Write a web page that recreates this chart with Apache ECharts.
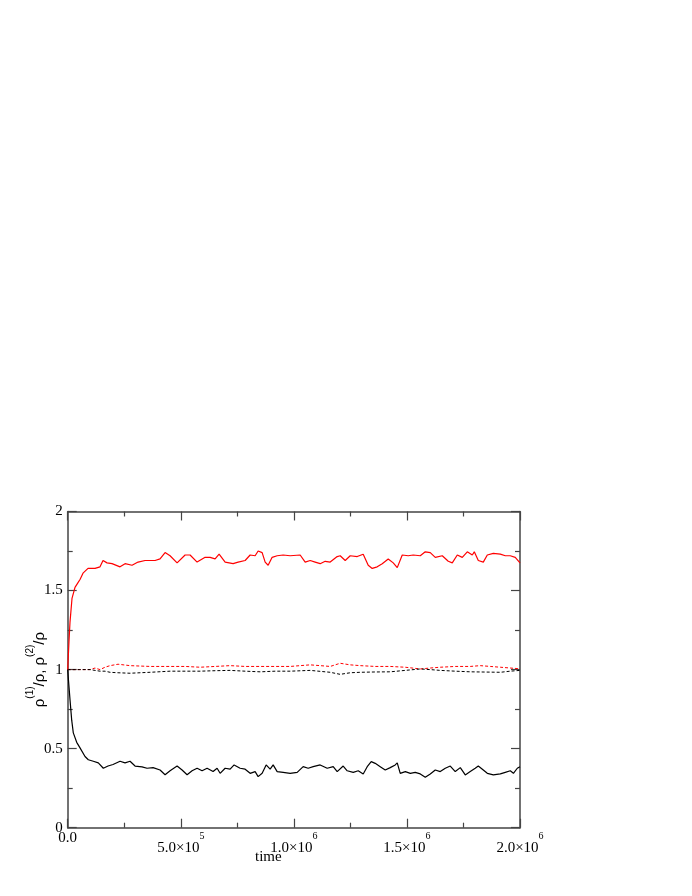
<!DOCTYPE html>
<html>
<head>
<meta charset="utf-8">
<script src="https://cdn.jsdelivr.net/npm/echarts@6/dist/echarts.min.js"></script>
<style>
html,body{margin:0;padding:0;background:#fff;}
#chart{width:692px;height:896px;}
</style>
</head>
<body>
<div id="chart"></div>
<script>
// ---- data ----
var redSolidTime = [0,5750,10180,19030,32300,45580,54430,67700,89830,120800,142900,156200,173900,196000,231400,253600,284500,311100,342100,386300,408400,430600,452700,483700,519100,541200,572200,607600,629700,651800,669500,696100,731500,753600,784600,806700,828800,842100,859800,873100,886300,904000,926200,952700,983700,1027900,1050100,1072200,1094300,1116400,1138600,1160700,1191700,1204900,1227100,1249200,1280200,1306700,1328800,1346500,1368600,1390800,1417300,1439500,1457200,1479300,1505800,1527950,1559000,1581100,1603200,1625300,1656300,1682800,1700500,1722700,1744800,1766900,1789000,1797900,1815600,1837700,1855400,1882000,1913000,1935000,1957000,1979000,2000000];
var redSolid = [1.0,1.18,1.3,1.45,1.52,1.55,1.57,1.61,1.64,1.64,1.65,1.69,1.675,1.67,1.65,1.67,1.66,1.68,1.69,1.69,1.70,1.74,1.72,1.675,1.725,1.725,1.68,1.71,1.71,1.70,1.73,1.68,1.67,1.68,1.69,1.725,1.72,1.75,1.74,1.68,1.66,1.71,1.72,1.725,1.72,1.725,1.68,1.69,1.68,1.67,1.685,1.68,1.715,1.72,1.69,1.72,1.715,1.73,1.66,1.64,1.65,1.67,1.70,1.675,1.645,1.725,1.72,1.725,1.72,1.745,1.74,1.71,1.72,1.685,1.675,1.725,1.71,1.745,1.725,1.745,1.69,1.68,1.725,1.735,1.73,1.72,1.72,1.71,1.675];

var blackSolidTime = [0,3540,10180,17700,24780,39830,54430,61950,76550,91160,113300,135400,157500,178300,200450,231400,253600,275700,297800,328800,350900,377500,408400,430600,452700,483700,505800,527900,550000,572200,594300,616400,642950,660650,673900,696100,718200,735900,762400,784600,806700,828800,842100,859800,877500,895200,908500,926200,952700,983700,1014700,1041200,1063300,1085500,1116400,1147400,1174000,1191700,1218200,1235900,1262500,1284600,1306700,1324400,1342100,1359800,1382000,1404100,1426200,1448300,1457200,1470400,1493000,1515000,1536800,1559000,1581100,1603200,1625300,1647400,1669600,1691700,1713800,1736000,1758000,1780000,1802000,1815600,1837700,1855400,1882000,1913000,1935000,1957000,1970900,1988000,2000000];
var blackSolid = [1.0,0.93,0.81,0.68,0.60,0.54,0.505,0.50,0.45,0.43,0.42,0.41,0.376,0.39,0.40,0.42,0.41,0.42,0.39,0.385,0.376,0.38,0.365,0.335,0.36,0.39,0.365,0.335,0.36,0.376,0.36,0.376,0.355,0.376,0.344,0.376,0.37,0.397,0.376,0.37,0.344,0.355,0.323,0.344,0.397,0.37,0.397,0.355,0.35,0.344,0.35,0.386,0.376,0.386,0.397,0.376,0.386,0.355,0.39,0.36,0.35,0.36,0.34,0.386,0.418,0.407,0.386,0.365,0.38,0.397,0.41,0.344,0.355,0.344,0.35,0.34,0.319,0.34,0.365,0.355,0.376,0.39,0.355,0.38,0.334,0.355,0.376,0.39,0.365,0.344,0.334,0.34,0.35,0.36,0.344,0.376,0.386];

var dashTime = [0,54000,98700,120800,142900,165100,187200,222600,275700,364200,452700,519100,585400,651800,718200,784600,851000,917400,983700,1072200,1160700,1204900,1249200,1293800,1360200,1426200,1492600,1559000,1603200,1647400,1713800,1780000,1824400,1868700,1913000,1957000,2000000];
var redDashed = [1.0,1.0,1.0,1.01,1.0,1.015,1.025,1.034,1.025,1.02,1.02,1.02,1.015,1.02,1.025,1.02,1.02,1.02,1.02,1.03,1.02,1.04,1.03,1.025,1.02,1.02,1.015,1.004,1.01,1.015,1.02,1.02,1.025,1.02,1.015,1.01,1.005];
var blackDashed = [1.0,1.0,1.0,0.995,0.99,0.99,0.983,0.98,0.977,0.983,0.99,0.99,0.99,0.993,0.995,0.99,0.986,0.99,0.99,0.995,0.983,0.97,0.98,0.983,0.985,0.986,0.995,1.004,1.0,0.995,0.99,0.986,0.985,0.984,0.983,0.99,0.995];

var xTickValues = [0, 500000, 1000000, 1500000, 2000000];
var xTickMantissa = ['0.0', '5.0', '1.0', '1.5', '2.0'];
var xTickExponent = ['', '5', '6', '6', '6'];
var yTickValues = [0, 0.5, 1, 1.5, 2];
var yTickLabels = ['0', '0.5', '1', '1.5', '2'];
var xAxisTitle = 'time';

function pairs(t, v) { return t.map(function (x, i) { return [x, v[i]]; }); }

var serif = 'Liberation Serif, Times New Roman, serif';
var sans = 'Liberation Sans, Arial, sans-serif';
var axisCol = '#444';

var chart = echarts.init(document.getElementById('chart'), null, {renderer: 'canvas'});

function xLabel(v) {
  var i = xTickValues.indexOf(v);
  if (i < 0) return '';
  if (!xTickExponent[i]) return '{p|' + xTickMantissa[i] + '}';
  return '{m|' + xTickMantissa[i] + '×10}{s|' + xTickExponent[i] + '}';
}
function yLabel(v) {
  var i = yTickValues.indexOf(v);
  return i < 0 ? '' : yTickLabels[i];
}

var common = {
  min: 0,
  axisLine: {show: true, onZero: false, lineStyle: {color: axisCol, width: 1.5}},
  axisTick: {show: true, inside: true, length: 9, lineStyle: {color: axisCol, width: 1.2}},
  minorTick: {show: true, splitNumber: 2, length: 5, lineStyle: {color: axisCol, width: 1.2}},
  splitLine: {show: false},
  minorSplitLine: {show: false}
};

var option = {
  animation: false,
  backgroundColor: '#fff',
  grid: {left: 67.7, right: 172, top: 511.5, bottom: 68.3, containLabel: false},
  xAxis: [
    Object.assign({}, common, {
      type: 'value', position: 'bottom', max: 2000000, interval: 500000,
      axisLabel: {
        show: true, margin: 6, formatter: xLabel,
        rich: {
          p: {fontFamily: serif, fontSize: 15, color: '#000', lineHeight: 8},
          m: {fontFamily: serif, fontSize: 15, color: '#000', lineHeight: 22, verticalAlign: 'bottom'},
          s: {fontFamily: serif, fontSize: 10, color: '#000', lineHeight: 20, verticalAlign: 'top', padding: [-2, 0, 0, 0]}
        }
      }
    }),
    Object.assign({}, common, {
      type: 'value', position: 'top', max: 2000000, interval: 500000,
      axisLabel: {show: false}
    })
  ],
  yAxis: [
    Object.assign({}, common, {
      type: 'value', position: 'left', max: 2, interval: 0.5,
      axisLabel: {show: true, margin: 5, formatter: yLabel, fontFamily: serif, fontSize: 15, color: '#000'},
      name: '{r|ρ}{s|(1)}{r|/ρ, ρ}{s|(2)}{r|/ρ}',
      nameLocation: 'middle', nameRotate: 90, nameGap: 20, nameMoveOverlap: false,
      nameTextStyle: {
        rich: {
          r: {fontFamily: sans, fontSize: 15, color: '#000', lineHeight: 22, verticalAlign: 'bottom'},
          s: {fontFamily: sans, fontSize: 10, color: '#000', lineHeight: 22, verticalAlign: 'top'}
        }
      }
    }),
    Object.assign({}, common, {
      type: 'value', position: 'right', max: 2, interval: 0.5,
      axisLabel: {show: false}
    })
  ],
  graphic: [{
    type: 'text', left: 255, top: 850,
    style: {text: xAxisTitle, font: '15px ' + serif, fill: '#000'}
  }],
  series: [
    {type: 'line', data: pairs(redSolidTime, redSolid), symbol: 'none', lineStyle: {color: '#ff0000', width: 1.2}, z: 3},
    {type: 'line', data: pairs(blackSolidTime, blackSolid), symbol: 'none', lineStyle: {color: '#000000', width: 1.2}, z: 3},
    {type: 'line', data: pairs(dashTime, redDashed), symbol: 'none', lineStyle: {color: '#ff0000', width: 1, type: [3, 2]}, z: 2},
    {type: 'line', data: pairs(dashTime, blackDashed), symbol: 'none', lineStyle: {color: '#000000', width: 1, type: [3, 2]}, z: 2}
  ]
};
chart.setOption(option);
</script>
</body>
</html>
